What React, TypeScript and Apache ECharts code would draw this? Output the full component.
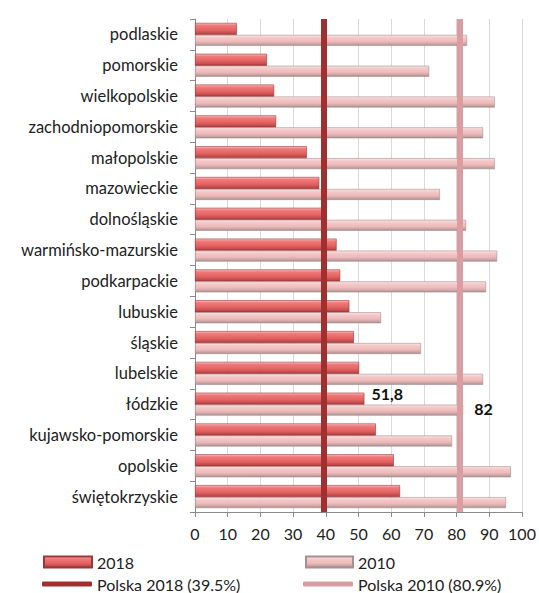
import React, { useEffect, useRef } from "react";
import * as echarts from "echarts";

const categories = [
  "podlaskie",
  "pomorskie",
  "wielkopolskie",
  "zachodniopomorskie",
  "małopolskie",
  "mazowieckie",
  "dolnośląskie",
  "warmińsko-mazurskie",
  "podkarpackie",
  "lubuskie",
  "śląskie",
  "lubelskie",
  "łódzkie",
  "kujawsko-pomorskie",
  "opolskie",
  "świętokrzyskie",
];

const values2018 = [12.8, 22, 24.2, 24.8, 34.2, 38, 40.2, 43.3, 44.4, 47.2, 48.6, 50.2, 51.8, 55.3, 60.8, 62.7];
const values2010 = [83.2, 71.6, 91.7, 88.1, 91.7, 74.9, 82.9, 92.4, 89, 56.9, 69.1, 88.1, 82, 78.6, 96.6, 95.1];

const polska2018 = 39.5;
const polska2010 = 80.9;

const labelledIndex = 12;
const label2018 = "51,8";
const label2010 = "82";

const xTicks = { min: 0, max: 100, interval: 10 };

const FONT = "Lato, 'Noto Sans', sans-serif";

export default function App() {
  const ref = useRef<HTMLDivElement>(null);
  useEffect(() => {
    if (!ref.current) return;
    const chart = echarts.init(ref.current, undefined, { renderer: "svg" });

    const grad2018 = new echarts.graphic.LinearGradient(0, 0, 0, 1, [
      { offset: 0, color: "#F9C2C2" },
      { offset: 0.2, color: "#F07A7A" },
      { offset: 0.6, color: "#E56262" },
      { offset: 0.85, color: "#C44E4E" },
      { offset: 1, color: "#A23C3C" },
    ]);
    const grad2010 = new echarts.graphic.LinearGradient(0, 0, 0, 1, [
      { offset: 0, color: "#FBE3E3" },
      { offset: 0.25, color: "#F4C8C8" },
      { offset: 0.6, color: "#EDBABA" },
      { offset: 0.85, color: "#C9A4A4" },
      { offset: 1, color: "#A58A8A" },
    ]);

    const labelStyle = {
      fontFamily: FONT,
      fontWeight: "bold",
      fontSize: 16,
      color: "#111",
    };

    const d2018 = values2018.map((v, i) =>
      i === labelledIndex
        ? { value: v, label: { show: true, position: "right", formatter: label2018, offset: [2, -5], ...labelStyle } }
        : v
    );
    const d2010 = values2010.map((v, i) =>
      i === labelledIndex
        ? { value: v, label: { show: true, position: "right", formatter: label2010, offset: [6, -2], ...labelStyle } }
        : v
    );

    const legendText = { fontFamily: FONT, fontSize: 16, color: "#222" };

    chart.setOption({
      animation: false,
      grid: { left: 195, right: 17, top: 19, bottom: 81, containLabel: false },
      xAxis: {
        type: "value",
        min: xTicks.min,
        max: xTicks.max,
        interval: xTicks.interval,
        axisLine: { show: true, lineStyle: { color: "#8A8A8A", width: 1 } },
        axisTick: { show: true, length: 5, lineStyle: { color: "#8A8A8A" } },
        axisLabel: { fontFamily: FONT, fontSize: 16, color: "#222", margin: 13 },
        splitLine: { show: true, lineStyle: { color: "#D9D9D9", width: 1 } },
      },
      yAxis: {
        type: "category",
        data: categories,
        inverse: true,
        axisLine: { show: true, lineStyle: { color: "#8A8A8A", width: 1 } },
        axisTick: { show: true, length: 5, alignWithLabel: false, lineStyle: { color: "#8A8A8A" } },
        axisLabel: { fontFamily: FONT, fontSize: 16.5, color: "#222", margin: 17 },
        splitLine: { show: false },
      },
      legend: [
        {
          data: ["2018"],
          left: 43,
          top: 554,
          padding: 0,
          icon: "rect",
          itemWidth: 48,
          itemHeight: 11,
          textStyle: legendText,
        },
        {
          data: ["2010"],
          left: 305,
          top: 554,
          padding: 0,
          icon: "rect",
          itemWidth: 47,
          itemHeight: 11,
          textStyle: legendText,
        },
        {
          data: ["Polska 2018 (39.5%)"],
          left: 42,
          top: 576,
          padding: 0,
          icon: "roundRect",
          itemWidth: 50,
          itemHeight: 5,
          textStyle: legendText,
        },
        {
          data: ["Polska 2010 (80.9%)"],
          left: 303,
          top: 576,
          padding: 0,
          icon: "roundRect",
          itemWidth: 50,
          itemHeight: 5,
          textStyle: legendText,
        },
      ],
      series: [
        {
          name: "2018",
          type: "bar",
          data: d2018,
          barWidth: 12,
          barGap: "0%",
          itemStyle: { color: grad2018, borderColor: "#9A3838", borderWidth: 0.6 },
          z: 3,
        },
        {
          name: "2010",
          type: "bar",
          data: d2010,
          barWidth: 11,
          barGap: "0%",
          itemStyle: { color: grad2010, borderColor: "#A88E8E", borderWidth: 0.6 },
          z: 2,
        },
        {
          name: "Polska 2018 (39.5%)",
          type: "line",
          data: [],
          color: "#A0302F",
          itemStyle: { color: "#A0302F" },
          lineStyle: { color: "#A0302F" },
          z: 5,
          markLine: {
            silent: true,
            symbol: "none",
            label: { show: false },
            lineStyle: { color: "#A0302F", width: 6, type: "solid" },
            data: [{ xAxis: polska2018 }],
          },
        },
        {
          name: "Polska 2010 (80.9%)",
          type: "line",
          data: [],
          color: "#DC9DA2",
          itemStyle: { color: "#DC9DA2" },
          lineStyle: { color: "#DC9DA2" },
          z: 1,
          markLine: {
            silent: true,
            symbol: "none",
            label: { show: false },
            lineStyle: { color: "#DC9DA2", width: 6, type: "solid" },
            data: [{ xAxis: polska2010 }],
          },
        },
      ],
    });
    return () => chart.dispose();
  }, []);
  return <div ref={ref} style={{ width: 539, height: 593, position: "absolute", left: 0, top: 0 }} />;
}
